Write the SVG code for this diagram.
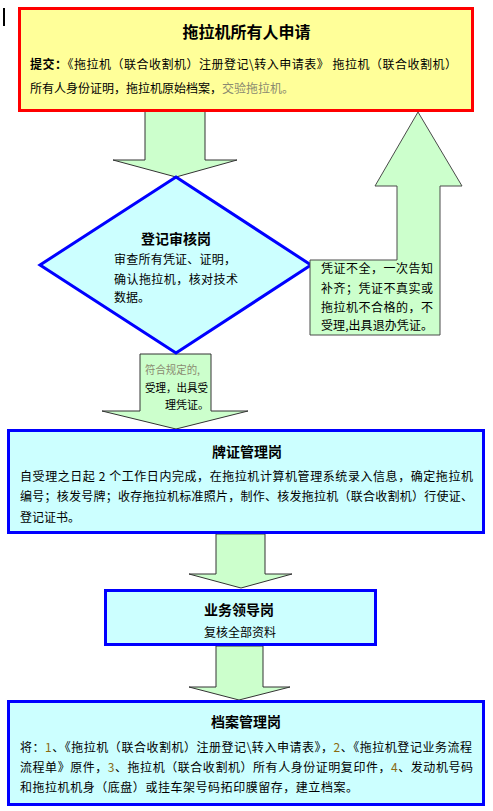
<svg xmlns="http://www.w3.org/2000/svg" width="493" height="811" viewBox="0 0 493 811">
<style>
text{font-family:"Noto Sans CJK SC","Liberation Sans",sans-serif;font-size:12px;fill:#000}
.t{font-weight:bold;font-size:14px;text-anchor:middle}
.b{font-weight:bold}
.g{fill:#8a8a70}
.n{fill:#8a6a10}
.arrow{fill:#CCFFCC;stroke:#333;stroke-width:1}
.box{fill:#CCFFFF;stroke:#0000FF;stroke-width:3}
</style>
<rect x="3" y="8" width="2" height="18" fill="#000"/>
<g id="connectors">
<polygon class="arrow" points="145,111 205,111 205,160 237,160 176,177 113,160 145,160"/>
<polygon class="arrow" points="140,354 211,354 211,411 248,411 176,429 102,411 140,411"/>
<text x="145" y="374" font-size="11" class="g" style="font-size:11px" textLength="55" lengthAdjust="spacingAndGlyphs">符合规定的,</text>
<text x="145" y="392" style="font-size:11px" textLength="63" lengthAdjust="spacingAndGlyphs">受理，出具受</text>
<text x="165" y="409" style="font-size:11px">理凭证。</text>
<polygon class="arrow" points="216,534 265,534 265,574 292,574 241,588 189,574 216,574"/>
<polygon class="arrow" points="216,646 263,646 263,687 290,687 239,700 189,687 216,687"/>
</g>
<g id="apply">
<rect x="19.5" y="8.5" width="453" height="102" fill="#FFFF99" stroke="#FF0000" stroke-width="3"/>
<text x="246.5" y="38" class="t" style="font-size:16px">拖拉机所有人申请</text>
<text x="30" y="69" textLength="427" lengthAdjust="spacing"><tspan class="b">提交：</tspan>《拖拉机（联合收割机）注册登记\转入申请表》 拖拉机（联合收割机）</text>
<text x="30" y="93">所有人身份证明，拖拉机原始档案，<tspan class="g">交验拖拉机。</tspan></text>
</g>
<g id="review">
<polygon class="box" points="176,177 311,265 176,353 40,265"/>
<text x="176" y="244" class="t">登记审核岗</text>
<text x="114" y="264" textLength="122" lengthAdjust="spacing">审查所有凭证、证明，</text>
<text x="114" y="284" textLength="124" lengthAdjust="spacing">确认拖拉机，核对技术</text>
<text x="114" y="302">数据。</text>
</g>
<g id="reject">
<polygon points="310,260 397,260 397,186 375,186 418,112 462,186 440,186 440,335 310,335" fill="#CCFFCC" stroke="#4a4a4a" stroke-width="1"/>
<text x="321" y="273" textLength="112" lengthAdjust="spacing">凭证不全，一次告知</text>
<text x="321" y="293" textLength="112" lengthAdjust="spacing">补齐；凭证不真实或</text>
<text x="321" y="312" textLength="112" lengthAdjust="spacing">拖拉机不合格的，不</text>
<text x="321" y="330" textLength="112" lengthAdjust="spacing">受理,出具退办凭证。</text>
</g>
<g id="license">
<rect class="box" x="8.5" y="430.5" width="475" height="102"/>
<text x="247" y="457" class="t">牌证管理岗</text>
<text x="20" y="481" textLength="453" lengthAdjust="spacing">自受理之日起 2 个工作日内完成，在拖拉机计算机管理系统录入信息，确定拖拉机</text>
<text x="20" y="501" textLength="453" lengthAdjust="spacing">编号；核发号牌；收存拖拉机标准照片，制作、核发拖拉机（联合收割机）行使证、</text>
<text x="20" y="522">登记证书。</text>
</g>
<g id="leader">
<rect class="box" x="105.5" y="590.5" width="270" height="54"/>
<text x="239" y="615" class="t">业务领导岗</text>
<text x="240" y="637" style="text-anchor:middle">复核全部资料</text>
</g>
<g id="archive">
<rect class="box" x="8.5" y="701.5" width="475" height="103"/>
<text x="246" y="727" class="t">档案管理岗</text>
<text x="20" y="752" textLength="452" lengthAdjust="spacing">将：<tspan class="n">1</tspan>、《拖拉机（联合收割机）注册登记\转入申请表》，<tspan class="n">2</tspan>、《拖拉机登记业务流程</text>
<text x="20" y="772" textLength="453" lengthAdjust="spacing">流程单》原件，<tspan class="n">3</tspan>、拖拉机（联合收割机）所有人身份证明复印件，<tspan class="n">4</tspan>、发动机号码</text>
<text x="20" y="792" textLength="338" lengthAdjust="spacing">和拖拉机机身（底盘）或挂车架号码拓印膜留存，建立档案。</text>
</g>
</svg>
